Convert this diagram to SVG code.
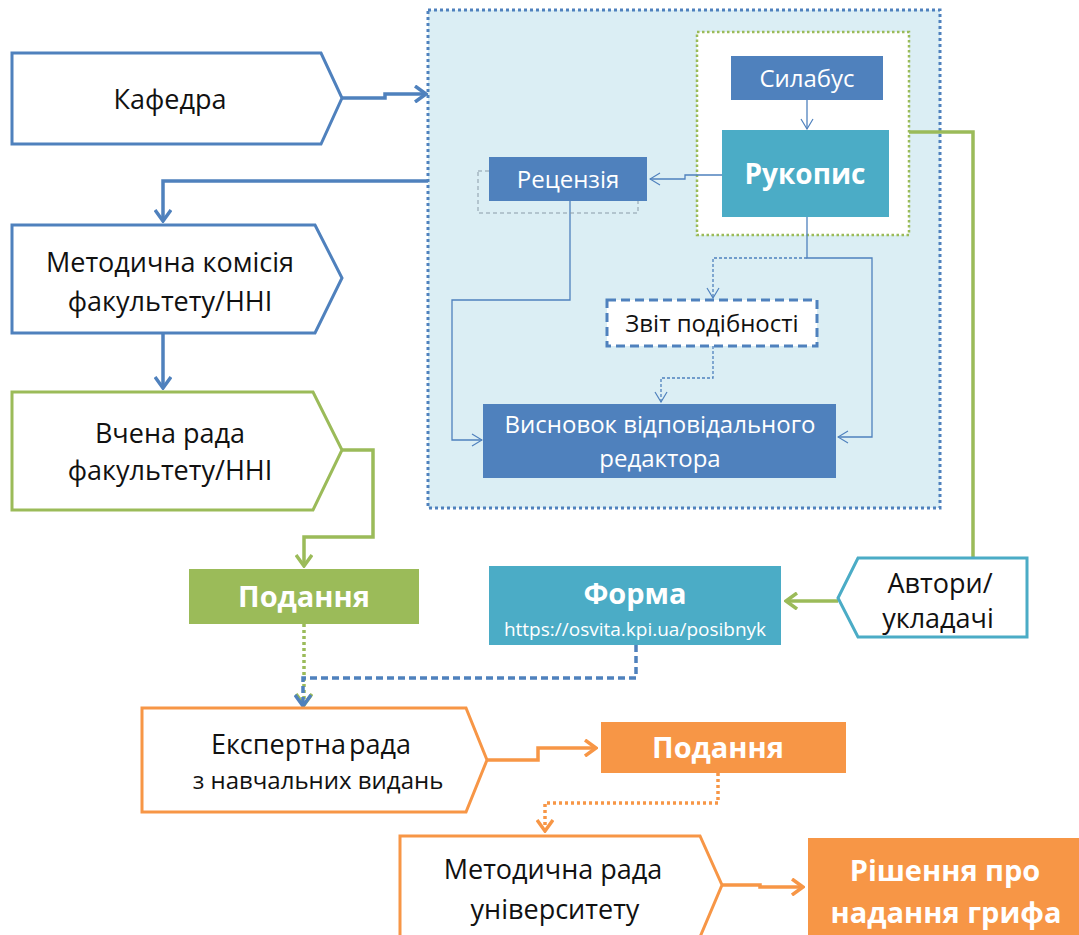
<svg xmlns="http://www.w3.org/2000/svg" width="1079" height="935" viewBox="0 0 1079 935">
<style>
.t{font-family:"Open Sans","Noto Sans",sans-serif;text-anchor:middle}
.dk{fill:#111}
.wh{fill:#fff}
.b{font-weight:bold}
.pb{fill:#fff;stroke:#4F81BD;stroke-width:3}
.pg{fill:#fff;stroke:#9BBB59;stroke-width:3}
.po{fill:#fff;stroke:#F79646;stroke-width:3}
.pt{fill:#fff;stroke:#4BACC6;stroke-width:3}
.cb{fill:none;stroke:#4F81BD;stroke-width:3.5}
.cg{fill:none;stroke:#9BBB59;stroke-width:3.5}
.co{fill:none;stroke:#F79646;stroke-width:3.5}
.thin{fill:none;stroke:#4F81BD;stroke-width:1.3}
</style>
<defs>
<marker id="ab" markerUnits="userSpaceOnUse" viewBox="0 0 14 18" refX="12" refY="9" markerWidth="14" markerHeight="18" orient="auto"><path d="M1,1 L12,9 L1,17" fill="none" stroke="#4F81BD" stroke-width="3.5"/></marker>
<marker id="ag" markerUnits="userSpaceOnUse" viewBox="0 0 14 18" refX="12" refY="9" markerWidth="14" markerHeight="18" orient="auto"><path d="M1,1 L12,9 L1,17" fill="none" stroke="#9BBB59" stroke-width="3.5"/></marker>
<marker id="ao" markerUnits="userSpaceOnUse" viewBox="0 0 14 18" refX="12" refY="9" markerWidth="14" markerHeight="18" orient="auto"><path d="M1,1 L12,9 L1,17" fill="none" stroke="#F79646" stroke-width="3.5"/></marker>
<marker id="at" markerUnits="userSpaceOnUse" viewBox="0 0 12 14" refX="11" refY="7" markerWidth="12" markerHeight="14" orient="auto"><path d="M1,1 L11,7 L1,13" fill="none" stroke="#4F81BD" stroke-width="1.2"/></marker>
</defs>

<g id="container">
<rect x="428" y="10" width="512" height="498" fill="#DBEEF4" stroke="#4F81BD" stroke-width="3" stroke-dasharray="3 3"/>
<rect x="697" y="32" width="212" height="203" fill="#fff" stroke="#9BBB59" stroke-width="2.5" stroke-dasharray="2.5 2.5"/>
</g>

<g id="connectors">
<path class="cb" d="M342,98 H385 V94 H426" marker-end="url(#ab)"/>
<path class="cb" d="M428,181 H163 V221" marker-end="url(#ab)"/>
<path class="cb" d="M163,333 V388" marker-end="url(#ab)"/>
<path class="cg" d="M342,450 H373 V537 H304 V566" marker-end="url(#ag)"/>
<path class="cg" d="M909,132 H973 V557"/>
<path class="cg" d="M838,601 H786" marker-end="url(#ag)"/>
<path class="cg" stroke-dasharray="3 3" d="M304,624 V705" marker-end="url(#ag)"/>
<path class="cb" stroke-width="2.5" stroke-dasharray="7 4" d="M636,645 V678 H303 V706" marker-end="url(#ab)"/>
<path class="co" d="M487,760 H538 V748 H596" marker-end="url(#ao)"/>
<path class="co" stroke-dasharray="3 3" d="M718,773 V803 H545 V831" marker-end="url(#ao)"/>
<path class="co" d="M722,885 H760 V887 H803" marker-end="url(#ao)"/>
<path class="thin" d="M807,100 V129" marker-end="url(#at)"/>
<path class="thin" d="M722,175 H685 V179 H650" marker-end="url(#at)"/>
<path class="thin" d="M570,201 V300 H452 V440 H482" marker-end="url(#at)"/>
<path class="thin" d="M807,217 V258 H872 V437 H838" marker-end="url(#at)"/>
<path class="thin" stroke-dasharray="3 2" d="M807,258 H713 V298" marker-end="url(#at)"/>
<path class="thin" stroke-dasharray="3 2" d="M713,346 V378 H661 V402" marker-end="url(#at)"/>
</g>

<g id="kafedra">
<polygon class="pb" points="12,53 321,53 342,98 321,144 12,144"/>
<text class="t dk" x="170" y="109" font-size="27">Кафедра</text>
</g>
<g id="metkom">
<polygon class="pb" points="12,225 315,225 342,278 315,333 12,333"/>
<text class="t dk" x="170" y="272" font-size="27">Методична комісія</text>
<text class="t dk" x="170" y="311" font-size="27">факультету/ННІ</text>
</g>
<g id="vchena">
<polygon class="pg" points="12,392 313,392 342,450 313,510 12,510"/>
<text class="t dk" x="170" y="443" font-size="27">Вчена рада</text>
<text class="t dk" x="170" y="480" font-size="27">факультету/ННІ</text>
</g>
<g id="podannya1">
<rect x="189" y="569" width="230" height="55" fill="#9BBB59"/>
<text class="t wh b" x="304" y="607" font-size="29">Подання</text>
</g>
<g id="forma">
<rect x="489" y="566" width="292" height="79" fill="#4BACC6"/>
<text class="t wh b" x="635" y="604" font-size="29">Форма</text>
<text class="t wh" x="635" y="636" font-size="19">https://osvita.kpi.ua/posibnyk</text>
</g>
<g id="avtory">
<polygon class="pt" points="1027,558 858,558 838,598 858,637 1027,637"/>
<text class="t dk" x="940" y="593" font-size="27">Автори/</text>
<text class="t dk" x="938" y="628" font-size="27">укладачі</text>
</g>
<g id="syllabus">
<rect x="731" y="56" width="152" height="44" fill="#4F81BD"/>
<text class="t wh" x="807" y="87" font-size="24">Силабус</text>
</g>
<g id="rukopys">
<rect x="722" y="130" width="167" height="87" fill="#4BACC6"/>
<text class="t wh b" x="805" y="184" font-size="28">Рукопис</text>
</g>
<g id="retsenziya">
<rect x="478" y="171" width="160" height="42" fill="none" stroke="#8A9BA8" stroke-width="1" stroke-dasharray="4 3"/>
<rect x="489" y="157" width="158" height="44" fill="#4F81BD"/>
<text class="t wh" x="568" y="188" font-size="24">Рецензія</text>
</g>
<g id="zvit">
<rect x="607" y="300" width="210" height="46" fill="#fff" stroke="#4F81BD" stroke-width="3" stroke-dasharray="9 5"/>
<text class="t dk" x="712" y="332" font-size="24">Звіт подібності</text>
</g>
<g id="vysnovok">
<rect x="483" y="404" width="353" height="74" fill="#4F81BD"/>
<text class="t wh" x="660" y="433" font-size="24">Висновок відповідального</text>
<text class="t wh" x="660" y="467" font-size="24">редактора</text>
</g>
<g id="ekspertna">
<polygon class="po" points="142,708 466,708 487,760 466,812 142,812"/>
<text class="t dk" x="311" y="754" font-size="27" word-spacing="-4">Експертна рада</text>
<text class="t dk" x="318" y="789" font-size="24">з навчальних видань</text>
</g>
<g id="podannya2">
<rect x="601" y="722" width="245" height="51" fill="#F79646"/>
<text class="t wh b" x="718" y="758" font-size="29">Подання</text>
</g>
<g id="metrada">
<polygon class="po" points="400,937 400,836 700,836 722,885 700,937"/>
<text class="t dk" x="553" y="879" font-size="27">Методична рада</text>
<text class="t dk" x="555" y="919" font-size="27">університету</text>
</g>
<g id="rishennya">
<rect x="808" y="838" width="271" height="100" fill="#F79646"/>
<text class="t wh b" x="945" y="881" font-size="29">Рішення про</text>
<text class="t wh b" x="946" y="923" font-size="29">надання грифа</text>
</g>
</svg>
